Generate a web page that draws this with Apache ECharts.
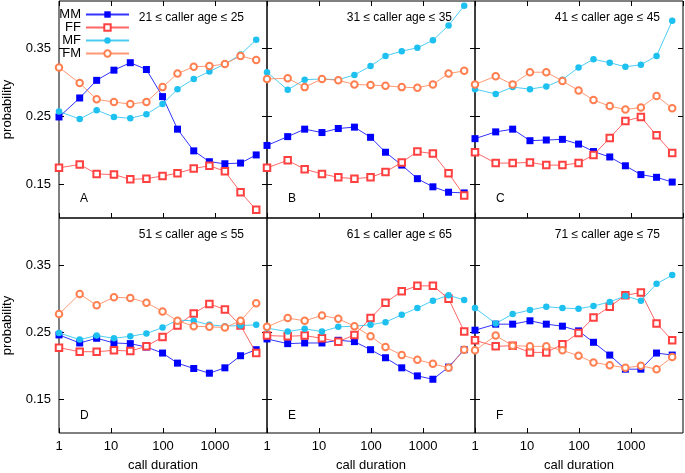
<!DOCTYPE html>
<html><head><meta charset="utf-8">
<script src="https://cdn.jsdelivr.net/npm/echarts@6/dist/echarts.min.js"></script>
<style>html,body{margin:0;padding:0;background:#fff}#c{width:685px;height:473px}</style>
</head><body><div id="c"></div>
<script>
// call duration bin positions (x)
const durations = [1, 2.5, 5.3, 11.4, 23.5, 48, 98, 190, 390, 780, 1550, 3100, 6200];
const seriesNames = ['MM', 'FF', 'MF', 'FM'];
const panelRanges = ['21 ≤ caller age ≤ 25', '31 ≤ caller age ≤ 35', '41 ≤ caller age ≤ 45',
                     '51 ≤ caller age ≤ 55', '61 ≤ caller age ≤ 65', '71 ≤ caller age ≤ 75'];
const panelLetters = ['A', 'B', 'C', 'D', 'E', 'F'];
const yTicks = [0.15, 0.25, 0.35];
const xTickLabels = [1, 10, 100, 1000];

// Panel A
const mmA = [0.249, 0.277, 0.303, 0.318, 0.329, 0.319, 0.279, 0.231, 0.199, 0.183, 0.180, 0.181, 0.193];
const ffA = [0.174, 0.179, 0.165, 0.164, 0.157, 0.158, 0.162, 0.166, 0.173, 0.177, 0.169, 0.138, 0.112];
const mfA = [0.257, 0.246, 0.259, 0.249, 0.247, 0.253, 0.268, 0.290, 0.305, 0.316, 0.327, 0.341, 0.363];
const fmA = [0.322, 0.299, 0.275, 0.271, 0.268, 0.271, 0.293, 0.313, 0.323, 0.324, 0.327, 0.339, 0.333];
// Panel B
const mmB = [0.207, 0.220, 0.231, 0.226, 0.232, 0.234, 0.219, 0.197, 0.178, 0.158, 0.146, 0.138, 0.137];
const ffB = [0.174, 0.185, 0.172, 0.165, 0.160, 0.158, 0.160, 0.168, 0.182, 0.198, 0.195, 0.166, 0.133];
const mfB = [0.315, 0.289, 0.304, 0.305, 0.304, 0.311, 0.324, 0.339, 0.346, 0.351, 0.362, 0.384, 0.413];
const fmB = [0.305, 0.306, 0.293, 0.305, 0.303, 0.297, 0.296, 0.295, 0.293, 0.292, 0.297, 0.313, 0.317];
// Panel C
const mmC = [0.217, 0.227, 0.231, 0.214, 0.215, 0.216, 0.209, 0.198, 0.190, 0.177, 0.164, 0.160, 0.153];
const ffC = [0.197, 0.181, 0.181, 0.182, 0.178, 0.178, 0.181, 0.193, 0.218, 0.243, 0.249, 0.222, 0.196];
const mfC = [0.290, 0.283, 0.293, 0.290, 0.294, 0.304, 0.322, 0.334, 0.329, 0.323, 0.326, 0.339, 0.391];
const fmC = [0.297, 0.309, 0.297, 0.315, 0.315, 0.302, 0.288, 0.274, 0.265, 0.260, 0.263, 0.280, 0.262];
// Panel D
const mmD = [0.246, 0.234, 0.241, 0.234, 0.233, 0.228, 0.219, 0.204, 0.196, 0.189, 0.197, 0.215, 0.224];
const ffD = [0.227, 0.221, 0.221, 0.223, 0.222, 0.229, 0.243, 0.260, 0.278, 0.292, 0.284, 0.260, 0.219];
const mfD = [0.249, 0.239, 0.245, 0.241, 0.244, 0.248, 0.257, 0.268, 0.267, 0.261, 0.259, 0.260, 0.261];
const fmD = [0.277, 0.307, 0.290, 0.302, 0.301, 0.294, 0.281, 0.267, 0.259, 0.258, 0.257, 0.267, 0.293];
// Panel E
const mmE = [0.240, 0.233, 0.234, 0.234, 0.238, 0.236, 0.224, 0.212, 0.197, 0.185, 0.180, 0.198, 0.224];
const ffE = [0.245, 0.244, 0.245, 0.241, 0.236, 0.246, 0.271, 0.294, 0.311, 0.319, 0.319, 0.300, 0.251];
const mfE = [0.256, 0.251, 0.255, 0.251, 0.258, 0.259, 0.261, 0.265, 0.276, 0.286, 0.297, 0.305, 0.298];
const fmE = [0.258, 0.271, 0.267, 0.275, 0.270, 0.259, 0.244, 0.228, 0.216, 0.209, 0.203, 0.197, 0.224];
// Panel F
const mmF = [0.253, 0.262, 0.262, 0.267, 0.262, 0.259, 0.252, 0.235, 0.216, 0.195, 0.195, 0.219, 0.216];
const ffF = [0.238, 0.229, 0.230, 0.220, 0.220, 0.232, 0.249, 0.272, 0.288, 0.305, 0.309, 0.263, 0.238];
const mfF = [0.286, 0.263, 0.277, 0.283, 0.288, 0.286, 0.285, 0.289, 0.295, 0.304, 0.297, 0.322, 0.335];
const fmF = [0.223, 0.245, 0.230, 0.229, 0.229, 0.223, 0.215, 0.205, 0.201, 0.197, 0.200, 0.195, 0.213];

const panels = [[mmA, ffA, mfA, fmA], [mmB, ffB, mfB, fmB], [mmC, ffC, mfC, fmC],
                [mmD, ffD, mfD, fmD], [mmE, ffE, mfE, fmE], [mmF, ffF, mfF, fmF]];

const colors = ['#0000ff', '#ff4040', '#1ec0f0', '#ff7f50'];
const symbols = ['rect', 'emptyRect', 'circle', 'emptyCircle'];
const symbolSizes = [7, 6.5, 6.5, 6.5];
const FONT = 'Liberation Sans';

const lefts = [59, 267, 475];
const tops = [1, 218];
const heights = [217, 218];
const W = 208;

const grids = [], xAxes = [], yAxes = [], series = [], titles = [];
for (let p = 0; p < 6; p++) {
  const col = p % 3, row = Math.floor(p / 3);
  grids.push({left: lefts[col], top: tops[row], width: W, height: heights[row],
    show: true, borderColor: '#000', borderWidth: 1, backgroundColor: 'transparent'});
  const xi = xAxes.length;
  xAxes.push({type: 'log', logBase: 10, min: 1, max: 10000, gridIndex: p, position: 'bottom',
    name: row === 1 ? 'call duration' : '', nameLocation: 'middle', nameGap: 26,
    nameTextStyle: {fontSize: 13, color: '#000', fontFamily: FONT},
    axisLine: {show: false}, splitLine: {show: false}, minorTick: {show: false},
    axisTick: {show: true, inside: true, length: 5, lineStyle: {color: '#000', width: 1}},
    axisLabel: {show: row === 1, showMaxLabel: false, margin: 7, fontSize: 13, color: '#000', fontFamily: FONT,
      formatter: v => String(Math.round(v))}});
  if (row === 0) {
    xAxes.push({type: 'log', logBase: 10, min: 1, max: 10000, gridIndex: p, position: 'top',
      axisLine: {show: false}, splitLine: {show: false}, axisLabel: {show: false},
      axisTick: {show: true, inside: true, length: 5, lineStyle: {color: '#000', width: 1}}});
  }
  const yi = yAxes.length;
  yAxes.push({type: 'value', min: 0.10, max: 0.42, gridIndex: p, position: 'left',
    name: col === 0 ? 'probability' : '', nameLocation: 'middle', nameGap: 45,
    nameTextStyle: {fontSize: 13, color: '#000', fontFamily: FONT},
    axisLine: {show: false}, splitLine: {show: false},
    axisTick: {show: true, inside: true, length: 5, customValues: yTicks, lineStyle: {color: '#000', width: 1}},
    axisLabel: {show: col === 0, customValues: yTicks, margin: 8, fontSize: 13, color: '#000', fontFamily: FONT,
      formatter: v => v.toFixed(2)}});
  yAxes.push({type: 'value', min: 0.10, max: 0.42, gridIndex: p, position: 'right',
    axisLine: {show: false}, splitLine: {show: false}, axisLabel: {show: false},
    axisTick: {show: true, inside: true, length: 5, customValues: yTicks, lineStyle: {color: '#000', width: 1}}});
  for (let s = 0; s < 4; s++) {
    series.push({type: 'line', name: seriesNames[s], xAxisIndex: xi, yAxisIndex: yi,
      data: durations.map((d, j) => [d, panels[p][s][j]]),
      symbol: symbols[s], symbolSize: symbolSizes[s], showSymbol: true,
      color: colors[s], itemStyle: {color: colors[s], borderWidth: 1},
      lineStyle: {width: 1, color: colors[s], opacity: 0.8}, z: 2 + s});
  }
  titles.push({text: panelRanges[p], right: 685 - (lefts[col] + W - 23), top: tops[row] + 11, padding: 0,
    textStyle: {fontSize: 12, fontWeight: 'normal', color: '#000', fontFamily: FONT}});
  titles.push({text: panelLetters[p], left: lefts[col] + 21, top: tops[row] + 192, padding: 0,
    textStyle: {fontSize: 12, fontWeight: 'normal', color: '#000', fontFamily: FONT}});
}

const legendRowTops = [8, 21, 34, 47];
const legends = seriesNames.map((n, i) => ({data: [n], right: 685 - 130, top: legendRowTops[i],
  orient: 'vertical', align: 'right', padding: 0, itemWidth: 43, itemHeight: 8, selectedMode: false,
  textStyle: {fontSize: 13, color: '#000', fontFamily: FONT}}));

const chart = echarts.init(document.getElementById('c'), null, {renderer: 'canvas'});
chart.setOption({animation: false, backgroundColor: '#fff', textStyle: {fontFamily: FONT},
  title: titles, legend: legends, grid: grids, xAxis: xAxes, yAxis: yAxes, series: series});
</script></body></html>
